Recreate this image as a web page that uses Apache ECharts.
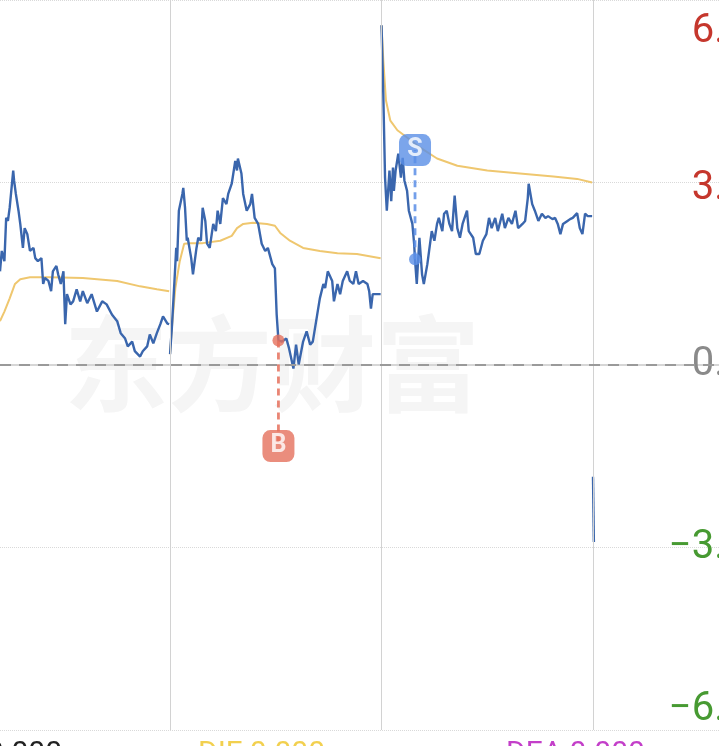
<!DOCTYPE html>
<html>
<head>
<meta charset="utf-8">
<script src="https://cdn.jsdelivr.net/npm/echarts@6/dist/echarts.min.js"></script>
<style>
  html, body { margin: 0; padding: 0; background: #fff; }
  #chart { width: 719px; height: 746px; }
</style>
</head>
<body>
<div id="chart"></div>
<script>
  // 分时走势 (多日)  x = 天序号*240 + 分钟
  var DAY_LEN = 240
  var Y_MAX = 6.08

  // 第1天 (只露出后半段)
  var day1Min = [47,49,52,54,56,58,62,63,65,68,70,73,75,78,81,85,87,90,94,96,98,102,105,107,111,113,116,119,121,123,127,130,134,138,141,146,151,157,163,168,174,180,184,189,192,197,200,206,209,214,217,221,225,229,232,237,239]
  var day1Pct = [1.56,1.90,1.73,2.45,2.40,2.62,3.24,3.07,2.85,2.57,2.35,1.95,2.28,2.18,1.90,1.95,1.78,1.73,1.78,1.35,1.45,1.40,1.23,1.56,1.65,1.51,1.35,1.56,0.68,1.18,1.01,1.06,1.26,1.06,1.23,1.03,1.18,0.89,1.06,1.01,0.84,0.73,0.53,0.44,0.31,0.39,0.23,0.14,0.23,0.31,0.51,0.36,0.53,0.68,0.81,0.69,0.68]
  var day1AvgMin = [47,52,58,64,70,81,104,141,180,206,225,239]
  var day1AvgPct = [0.73,0.89,1.11,1.35,1.43,1.46,1.46,1.45,1.40,1.31,1.26,1.23]

  // 第2天
  var day2Min = [0,2,5,7,8,10,14,15,17,19,20,24,26,30,32,35,37,40,42,45,49,52,54,57,60,64,66,70,74,76,77,81,83,87,91,93,96,100,104,108,111,116,119,121,123,127,132,135,140,143,146,151,155,159,162,167,170,174,176,179,184,186,190,193,196,201,204,208,211,214,219,224,226,228,230,235,239]
  var day2Pct = [0.18,0.61,1.40,1.95,1.73,2.57,2.85,2.95,2.62,2.07,2.12,1.78,1.51,1.95,2.12,2.07,2.62,2.40,2.02,1.95,2.35,2.23,2.57,2.35,2.78,2.68,2.85,3.02,3.40,3.24,3.44,3.19,2.85,2.57,2.68,2.85,2.45,2.35,2.02,1.90,1.95,1.68,1.61,0.84,0.41,0.39,0.44,0.28,-0.06,0.34,0.01,0.39,0.56,0.34,0.39,0.84,1.11,1.35,1.28,1.56,1.40,1.06,1.35,1.18,1.40,1.56,1.40,1.35,1.56,1.35,1.40,1.35,1.23,0.94,1.18,1.18,1.18]
  var day2AvgMin = [0,2,6,11,16,23,37,57,70,76,83,94,110,119,125,136,151,170,190,212,239]
  var day2AvgPct = [0.18,0.61,1.28,1.73,2.02,2.03,2.03,2.07,2.15,2.28,2.35,2.37,2.35,2.32,2.20,2.07,1.95,1.90,1.86,1.85,1.78]

  // 第3天
  var day3Min = [0,2,4,6,9,11,13,14,16,19,22,24,26,29,31,35,37,38,40,43,46,48,52,54,57,60,63,65,69,71,74,77,80,83,86,89,92,97,99,104,107,111,115,119,122,125,129,132,137,140,144,148,152,155,160,163,166,167,171,174,178,182,186,189,194,197,200,203,206,211,214,217,222,225,228,231,234,239]
  var day3Pct = [5.66,4.52,3.12,2.57,3.24,2.73,3.29,2.90,3.24,3.52,3.12,3.45,3.07,2.90,2.57,2.35,2.02,1.76,1.35,2.12,1.51,1.35,1.68,1.90,2.23,2.07,2.35,2.45,2.23,2.52,2.57,2.35,2.23,2.82,2.28,2.12,2.35,2.57,2.23,2.12,1.85,1.85,2.07,2.18,2.45,2.28,2.45,2.23,2.52,2.28,2.45,2.35,2.57,2.28,2.35,2.40,2.78,3.02,2.68,2.57,2.40,2.52,2.45,2.48,2.43,2.45,2.35,2.18,2.35,2.40,2.43,2.45,2.53,2.28,2.18,2.52,2.48,2.48]
  var day3AvgMin = [0,2,5,10,18,29,44,63,86,120,157,195,222,239]
  var day3AvgPct = [5.66,5.08,4.41,4.07,3.91,3.79,3.62,3.44,3.32,3.24,3.19,3.14,3.10,3.04]

  // 第4天 (刚开盘)
  var day4Min = [0,1]
  var day4Pct = [-1.86,-2.95]

  // 买卖点: 天, 分钟, 涨幅, 标签所在涨幅
  var tradeNames = ['B','S']
  var tradeDay = [1,2]
  var tradeMin = [123,38]
  var tradePct = [0.41,1.76]
  var tradeTagPct = [-1.35,3.58]
  var tradeColor = ['#e5705c','#5a8ee6']

  var blue = '#3a66ad'
  var yellow = '#efc76f'

  function pts(day, mins, vals){
    return mins.map(function(m, i){ return [day*DAY_LEN + m, vals[i]] })
  }

  var priceDays = [[day1Min,day1Pct],[day2Min,day2Pct],[day3Min,day3Pct],[day4Min,day4Pct]]
  var avgDays = [[day1AvgMin,day1AvgPct],[day2AvgMin,day2AvgPct],[day3AvgMin,day3AvgPct]]

  var series = []
  avgDays.forEach(function(d, i){
    series.push({
      type:'line', data: pts(i, d[0], d[1]), showSymbol:false, silent:true,
      lineStyle:{color:yellow, width:2}, z:3
    })
  })
  priceDays.forEach(function(d, i){
    series.push({
      type:'line', data: pts(i, d[0], d[1]), showSymbol:false, silent:true,
      lineStyle:{color:blue, width:2.4}, z:4
    })
  })

  // 日分隔线 + 零轴虚线
  series.push({
    type:'line', data:[], silent:true,
    markLine:{
      silent:true, symbol:['none','none'], label:{show:false},
      data:[
        {xAxis:DAY_LEN, lineStyle:{color:'#d2d2d2', width:1, type:'solid'}},
        {xAxis:DAY_LEN*2, lineStyle:{color:'#d2d2d2', width:1, type:'solid'}},
        {xAxis:DAY_LEN*3, lineStyle:{color:'#d2d2d2', width:1, type:'solid'}},
        {yAxis:0, lineStyle:{color:'#9a9a9a', width:2, type:[11,8]}}
      ]
    }
  })

  tradeNames.forEach(function(name, i){
    var x = tradeDay[i]*DAY_LEN + tradeMin[i]
    var c = tradeColor[i]
    // 虚线
    series.push({
      type:'line', data:[[x, tradePct[i]],[x, tradeTagPct[i]]], showSymbol:false, silent:true,
      lineStyle:{color:c, width:2.8, type:[7,5], opacity:0.85}, z:5
    })
    // 点
    series.push({
      type:'scatter', data:[[x, tradePct[i]]], symbolSize:12, silent:true,
      itemStyle:{color:c}, z:7
    })
    // 标签
    series.push({
      type:'scatter', data:[[x, tradeTagPct[i]]], symbol:'roundRect', symbolSize:[32,32], silent:true,
      itemStyle:{color:c, borderRadius:5},
      label:{show:true, position:'inside', formatter:name, color:'#fff', fontSize:25,
             fontFamily:'Roboto', fontWeight:'bold'},
      z:8
    })
  })

  var chart = echarts.init(document.getElementById('chart'), null, {renderer:'canvas'})
  chart.setOption({
    animation:false,
    backgroundColor:'#fff',
    grid:{left:0, right:0, top:0, bottom:16, containLabel:false, outerBoundsMode:'none'},
    xAxis:{
      type:'value', min:47, max:863,
      axisLine:{show:true, lineStyle:{color:'#d6d6d6', width:2}},
      axisTick:{show:false}, axisLabel:{show:false}, splitLine:{show:false}
    },
    yAxis:{
      type:'value', position:'right', min:-Y_MAX, max:Y_MAX, interval:Y_MAX/2,
      axisLine:{show:false}, axisTick:{show:false},
      splitLine:{show:true, lineStyle:{color:'#d9d9d9', type:'dotted', width:1}},
      axisLabel:{
        inside:true, margin:-80, align:'right',
        verticalAlignMaxLabel:'top', verticalAlignMinLabel:'bottom',
        formatter:function(v){
          var s = Math.abs(v).toFixed(2) + '%'
          if (v > 1e-9) return '{up|' + s + '}'
          if (v < -1e-9) return '{dn|\u2212' + s + '}'
          return '{zr|' + s + '}'
        },
        rich:{
          up:{color:'#c5372d', fontSize:40, fontFamily:'Roboto', padding:[12,0,0,0]},
          dn:{color:'#479a32', fontSize:40, fontFamily:'Roboto', padding:[0,0,0,0]},
          zr:{color:'#8a8a8a', fontSize:40, fontFamily:'Roboto'}
        }
      }
    },
    graphic:[
      {type:'text', left:64, top:312, z:-1, silent:true,
       style:{text:'东方财富', fontSize:104, fontWeight:'bold', fontFamily:'Noto Sans CJK SC', fill:'#f5f5f5'}},
      {type:'text', right:657, top:739, silent:true,
       style:{text:'MACD:0.000', fontSize:30, fontFamily:'Roboto', fill:'#222'}},
      {type:'text', left:198, top:739, silent:true,
       style:{text:'DIF:0.000', fontSize:30, fontFamily:'Roboto', fill:'#f2d04f'}},
      {type:'text', left:506, top:739, silent:true,
       style:{text:'DEA:0.000', fontSize:30, fontFamily:'Roboto', fill:'#c33fc9'}}
    ],
    series:series
  })
</script>
</body>
</html>
